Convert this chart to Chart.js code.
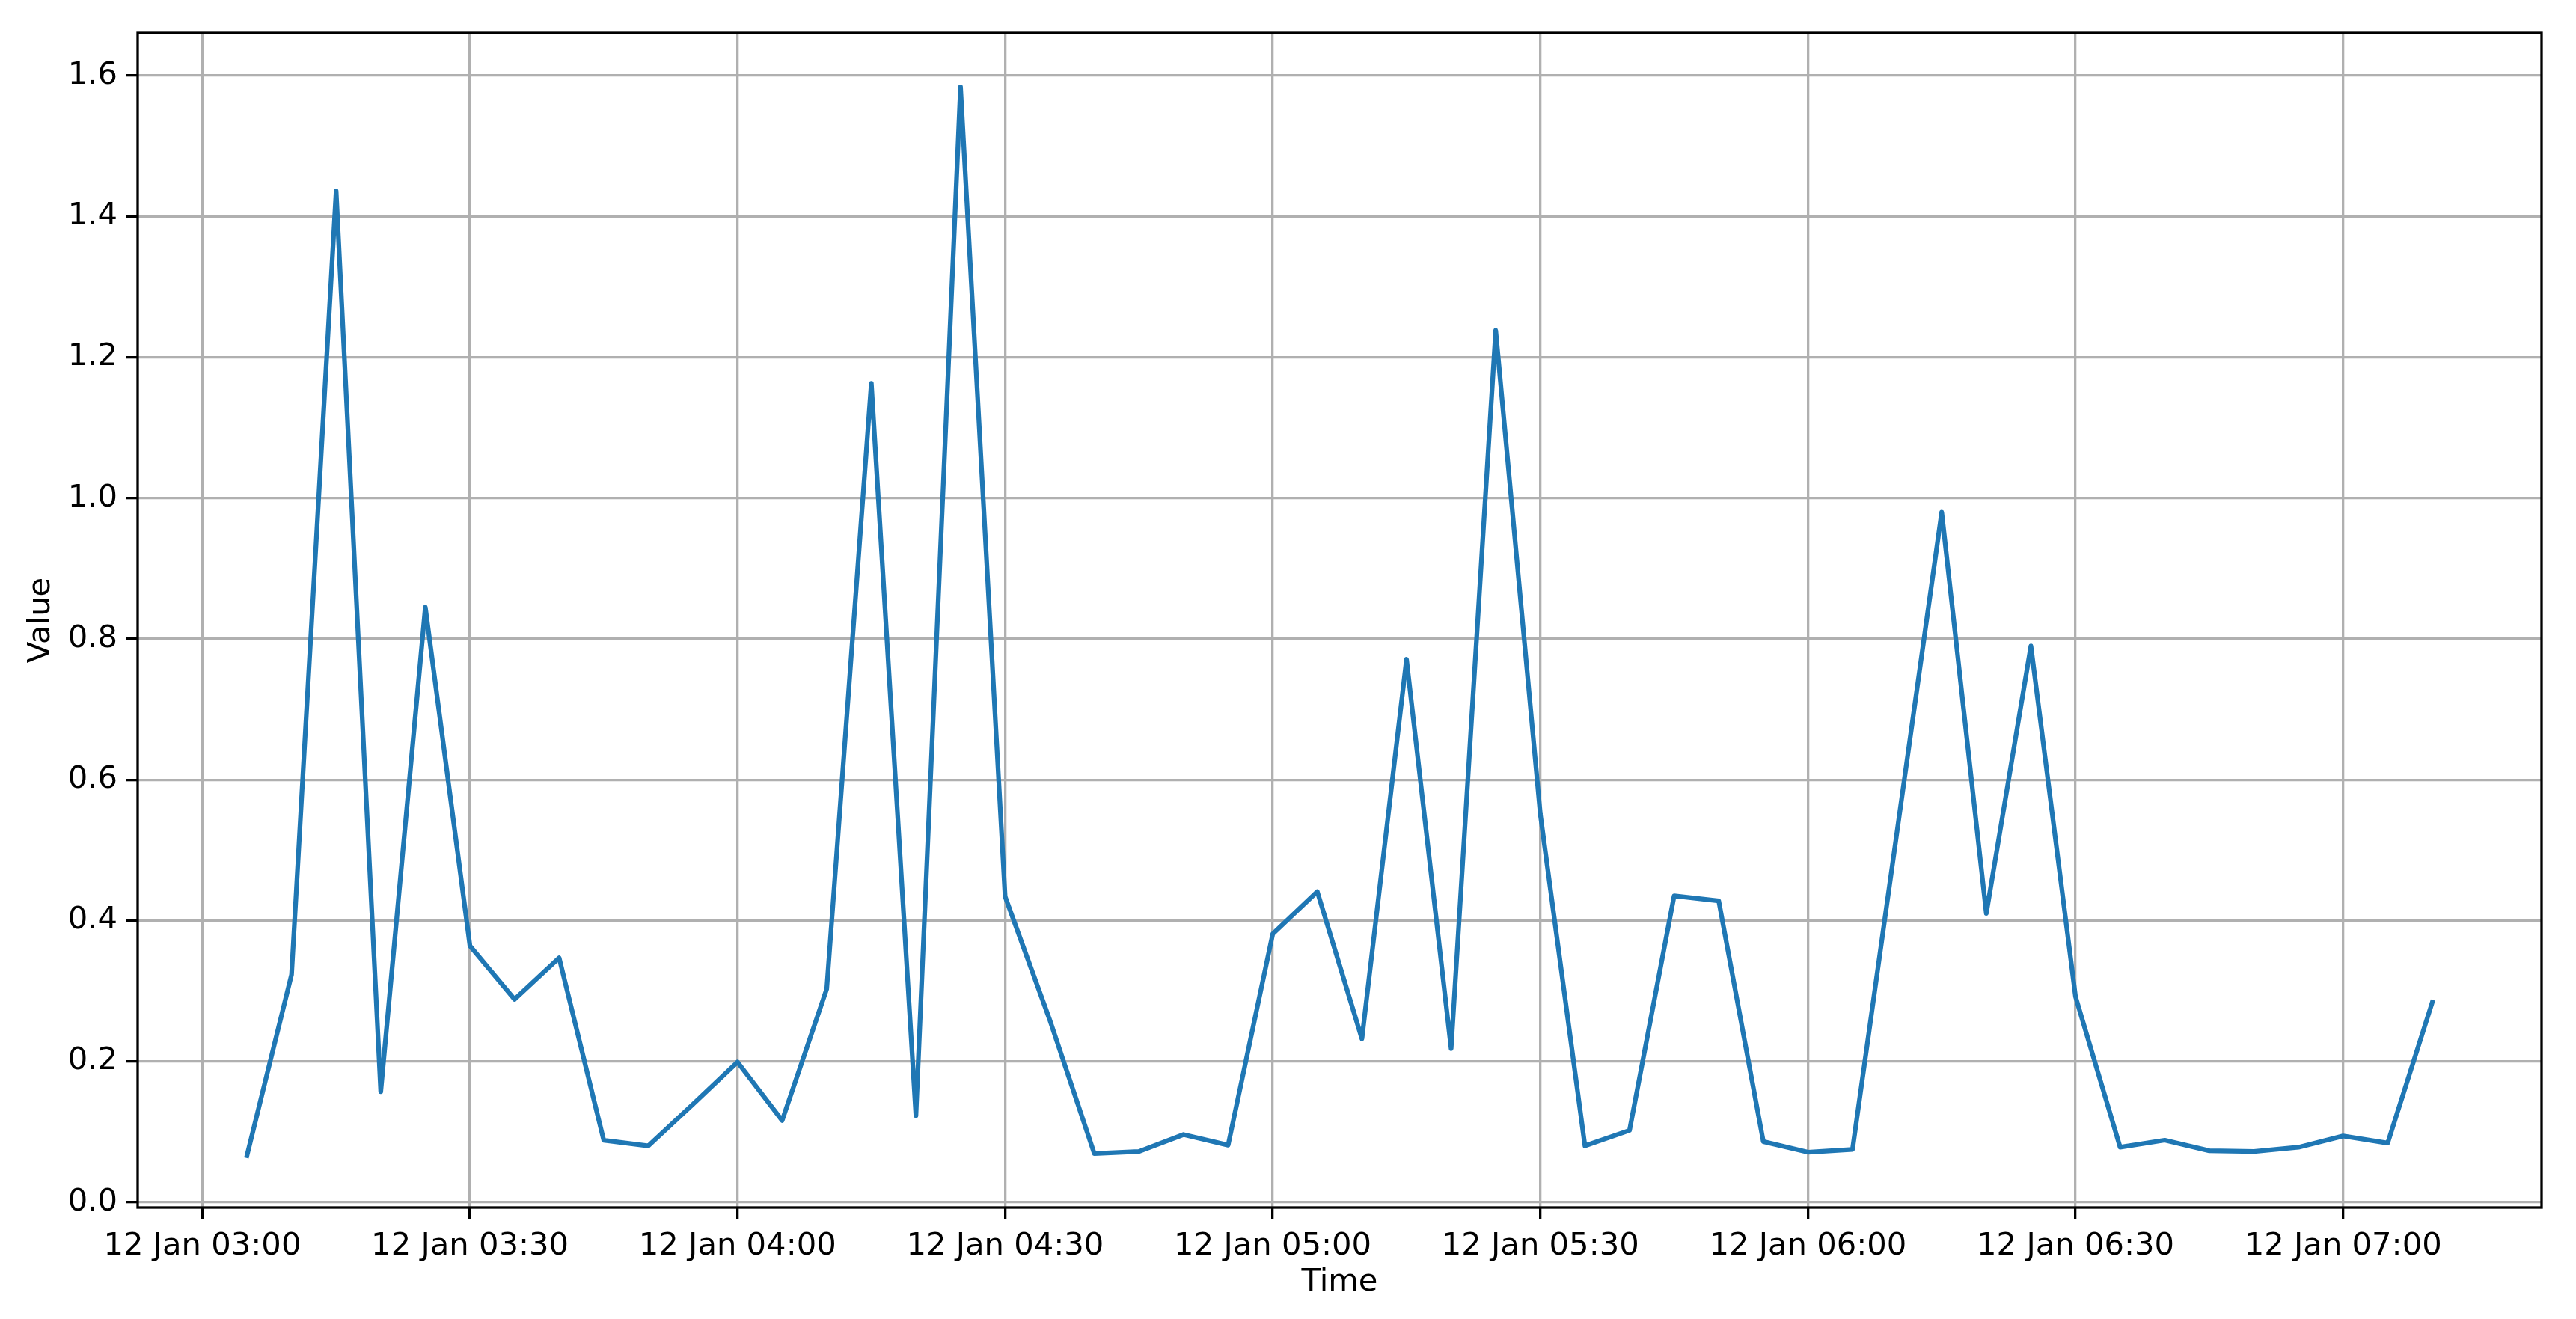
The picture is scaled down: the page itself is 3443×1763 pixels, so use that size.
<!DOCTYPE html>
<html>
<head>
<meta charset="utf-8">
<script src="https://cdn.jsdelivr.net/npm/chart.js@4"></script>
<style>
  body { margin: 0; background: #fff; }
  canvas { display: block; }
</style>
</head>
<body>
<canvas id="myChart" width="3443" height="1763"></canvas>
<script>
// sample times (12 Jan), one every 5 minutes
var times = ["03:05","03:10","03:15","03:20","03:25","03:30","03:35","03:40","03:45","03:50",
             "03:55","04:00","04:05","04:10","04:15","04:20","04:25","04:30","04:35","04:40",
             "04:45","04:50","04:55","05:00","05:05","05:10","05:15","05:20","05:25","05:30",
             "05:35","05:40","05:45","05:50","05:55","06:00","06:05","06:10","06:15","06:20",
             "06:25","06:30","06:35","06:40","06:45","06:50","06:55","07:00","07:05","07:10"];
// values
var values = [0.066,0.323,1.436,0.157,0.845,0.364,0.288,0.347,0.088,0.080,
              0.139,0.199,0.116,0.303,1.163,0.123,1.584,0.434,0.259,0.069,
              0.072,0.096,0.081,0.381,0.441,0.232,0.771,0.218,1.238,0.551,
              0.080,0.102,0.435,0.428,0.086,0.071,0.075,0.527,0.980,0.410,
              0.790,0.292,0.078,0.088,0.073,0.072,0.078,0.094,0.084,0.284];
// x ticks
var xTickTimes = ["03:00","03:30","04:00","04:30","05:00","05:30","06:00","06:30","07:00"];
var xTickLabels = ["12 Jan 03:00","12 Jan 03:30","12 Jan 04:00","12 Jan 04:30","12 Jan 05:00",
                   "12 Jan 05:30","12 Jan 06:00","12 Jan 06:30","12 Jan 07:00"];
// y ticks
var yTicks = [0.0,0.2,0.4,0.6,0.8,1.0,1.2,1.4,1.6];

function toMinutes(t) {
  var p = t.split(":");
  return parseInt(p[0], 10) * 60 + parseInt(p[1], 10);
}

var points = times.map(function (t, i) { return { x: toMinutes(t), y: values[i] }; });
var xTickValues = xTickTimes.map(toMinutes);

var FONT = { family: "'DejaVu Sans'", size: 41.7 };

// matplotlib style box round the plot
var frame = {
  id: 'frame',
  afterDatasetsDraw: function (chart) {
    var a = chart.chartArea, c = chart.ctx;
    c.save();
    c.strokeStyle = '#000';
    c.lineWidth = 3.3;
    c.strokeRect(a.left, a.top, a.right - a.left, a.bottom - a.top);
    c.restore();
  }
};

var ctx = document.getElementById("myChart");
var myChart = new Chart(ctx, {
  type: 'line',
  data: {
    datasets: [
      {
        data: points,
        borderColor: "#1f77b4",
        borderWidth: 6.25,
        borderJoinStyle: 'round',
        borderCapStyle: 'square',
        pointRadius: 0,
        tension: 0,
        fill: false
      }
    ]
  },
  options: {
    responsive: false,
    animation: false,
    devicePixelRatio: 1,
    layout: { padding: { top: 44, right: 46, left: 0, bottom: 0 } },
    plugins: { legend: { display: false }, tooltip: { enabled: false } },
    scales: {
      x: {
        type: 'linear',
        min: 172.75,
        max: 442.25,
        afterBuildTicks: function (scale) {
          scale.ticks = xTickValues.map(function (v) { return { value: v }; });
        },
        afterFit: function (scale) { scale.height = 149; },
        ticks: {
          autoSkip: false,
          maxRotation: 0,
          padding: 12,
          color: '#000',
          font: FONT,
          callback: function (v) {
            var i = xTickValues.indexOf(v);
            return i >= 0 ? xTickLabels[i] : '';
          }
        },
        grid: { color: '#b0b0b0', lineWidth: 3.3, tickColor: '#000', tickLength: 15, tickWidth: 3.3 },
        border: { display: false },
        title: { display: true, text: 'Time', color: '#000', font: FONT, padding: { top: 0, bottom: 24 } }
      },
      y: {
        min: -0.0076,
        max: 1.6606,
        afterBuildTicks: function (scale) {
          scale.ticks = yTicks.map(function (v) { return { value: v }; });
        },
        afterFit: function (scale) { scale.width = 184; },
        ticks: {
          padding: 12,
          color: '#000',
          font: FONT,
          callback: function (v) { return v.toFixed(1); }
        },
        grid: { color: '#b0b0b0', lineWidth: 3.3, tickColor: '#000', tickLength: 15, tickWidth: 3.3 },
        border: { display: false },
        title: { display: true, text: 'Value', color: '#000', font: FONT, padding: { top: 30, bottom: 0 } }
      }
    }
  },
  plugins: [frame]
});
</script>
</body>
</html>
